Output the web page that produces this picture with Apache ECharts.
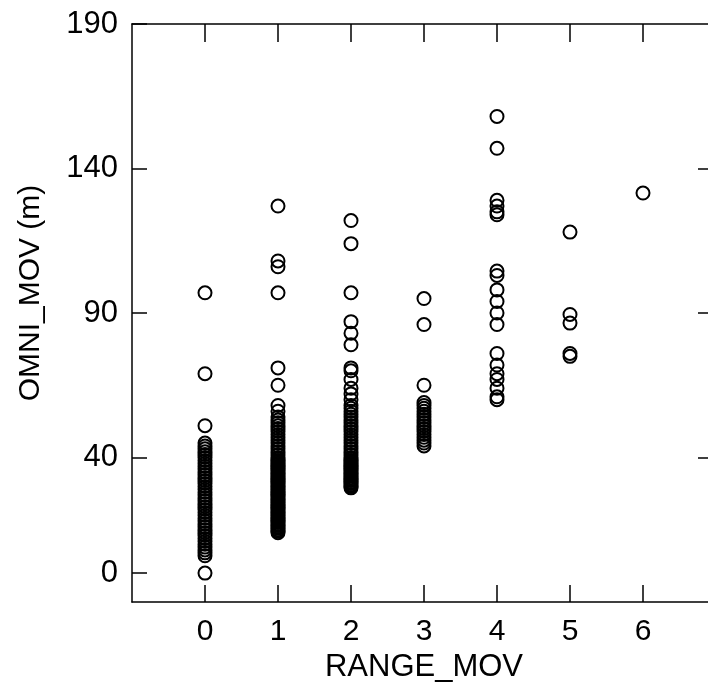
<!DOCTYPE html>
<html>
<head>
<meta charset="utf-8">
<title>OMNI_MOV vs RANGE_MOV</title>
<script src="https://cdn.jsdelivr.net/npm/echarts@6/dist/echarts.min.js"></script>
<style>
  html, body { margin: 0; padding: 0; background: #fff; }
  #main { width: 708px; height: 699px; }
</style>
</head>
<body>
<div id="main"></div>
<script>
// RANGE_MOV categories (x positions of the columns)
var rangeMov = [0, 1, 2, 3, 4, 5, 6];

// OMNI_MOV values
var omniAt0 = [97, 69, 51, 45, 44, 43, 42, 41, 40, 39, 38, 37, 36, 35, 34, 33, 32, 31, 30, 29,
               28, 27, 26, 25, 24, 23, 22, 21, 20, 19, 18, 17, 16, 15, 14, 13, 12, 11, 10, 9,
               8, 7, 6, 0];
var omniAt1 = [127, 108, 106, 97, 71, 65, 58, 56, 54, 53, 52, 51, 50, 49, 48, 47, 46, 45, 44, 43,
               42, 41, 40, 39.5, 39, 38.5, 38, 37.5, 37, 36.5, 36, 35.5, 35, 34.5, 34, 33.5, 33,
               32.5, 32, 31.5, 31, 30.5, 30, 29.5, 29, 28.5, 28, 27.5, 27, 26.5, 26, 25.5, 25,
               24.5, 24, 23.5, 23, 22.5, 22, 21.5, 21, 20.5, 20, 19.5, 19, 18.5, 18, 17.5, 17,
               16.5, 16, 15.5, 15, 14.5, 14];
var omniAt2 = [122, 114, 97, 87, 83, 79, 71, 70, 67, 64, 62, 60, 58, 57, 56, 55, 54, 53, 52, 51,
               50, 49, 48, 47, 46, 45, 44, 43, 42, 41, 40, 39.5, 39, 38.5, 38, 37.5, 37, 36.5, 36,
               35.5, 35, 34.5, 34, 33.5, 33, 32.5, 32, 31.5, 31, 30.5, 30, 29.5];
var omniAt3 = [95, 86, 65, 59, 58, 57, 56, 55, 54, 53, 52, 51, 50, 49, 48, 47, 46, 45, 44];
var omniAt4 = [158, 147, 129, 127, 125, 124, 104.5, 103, 98, 94, 90, 86, 76, 72, 69, 67, 64, 61, 60];
var omniAt5 = [118, 89.5, 86.5, 76, 75];
var omniAt6 = [131.5];

// tick labels
var xTicks = [0, 1, 2, 3, 4, 5, 6];
var yTicks = [0, 40, 90, 140, 190];
var yTicksRight = [40, 90, 140];

var columns = [omniAt0, omniAt1, omniAt2, omniAt3, omniAt4, omniAt5, omniAt6];
var points = [];
columns.forEach(function (col, i) {
    col.forEach(function (v) {
        points.push([rangeMov[i], v]);
    });
});

var chart = echarts.init(document.getElementById('main'));

var black = '#000';
var fontFamily = '"Liberation Sans", Arial, sans-serif';

function frameAxis(extra) {
    var base = {
        type: 'value',
        axisLine: { show: true, onZero: false, lineStyle: { color: black, width: 1.5 } },
        splitLine: { show: false },
        axisLabel: { show: false }
    };
    return Object.assign(base, extra);
}

var option = {
    animation: false,
    backgroundColor: '#fff',
    // plot runs past the right edge of the picture, like the scan
    grid: { left: 132, top: 24, width: 584, height: 578, containLabel: false,
            outerBoundsMode: 'none' },
    xAxis: [
        frameAxis({
            position: 'bottom',
            min: -1, max: 7,
            axisTick: { show: true, inside: true, length: 17, customValues: xTicks,
                        lineStyle: { color: black, width: 1.5 } },
            axisLabel: { show: true, customValues: xTicks, margin: 15, color: black,
                         fontSize: 30, fontFamily: fontFamily },
            name: 'RANGE_MOV',
            nameLocation: 'middle',
            nameGap: 49,
            nameTextStyle: { color: black, fontSize: 31, fontFamily: fontFamily }
        }),
        frameAxis({
            position: 'top',
            min: -1, max: 7,
            axisTick: { show: true, inside: true, length: 18, customValues: xTicks,
                        lineStyle: { color: black, width: 1.5 } }
        })
    ],
    yAxis: [
        frameAxis({
            position: 'left',
            min: -10, max: 190,
            axisTick: { show: true, inside: true, length: 15, customValues: yTicks,
                        lineStyle: { color: black, width: 1.5 } },
            axisLabel: { show: true, customValues: yTicks, margin: 14, color: black,
                         fontSize: 31, fontFamily: fontFamily },
            name: 'OMNI_MOV (m)',
            nameLocation: 'middle',
            nameGap: 86,
            nameTextStyle: { color: black, fontSize: 30, fontFamily: fontFamily,
                             padding: [0, 0, 0, 40] }
        }),
        frameAxis({
            position: 'right',
            min: -10, max: 190,
            axisTick: { show: true, inside: true, length: 18, customValues: yTicksRight,
                        lineStyle: { color: black, width: 1.5 } }
        })
    ],
    series: [
        {
            type: 'scatter',
            xAxisIndex: 0,
            yAxisIndex: 0,
            symbol: 'circle',
            symbolSize: 13,
            itemStyle: { color: 'rgba(0,0,0,0)', borderColor: black, borderWidth: 2, opacity: 1 },
            data: points
        }
    ]
};

chart.setOption(option);
</script>
</body>
</html>
